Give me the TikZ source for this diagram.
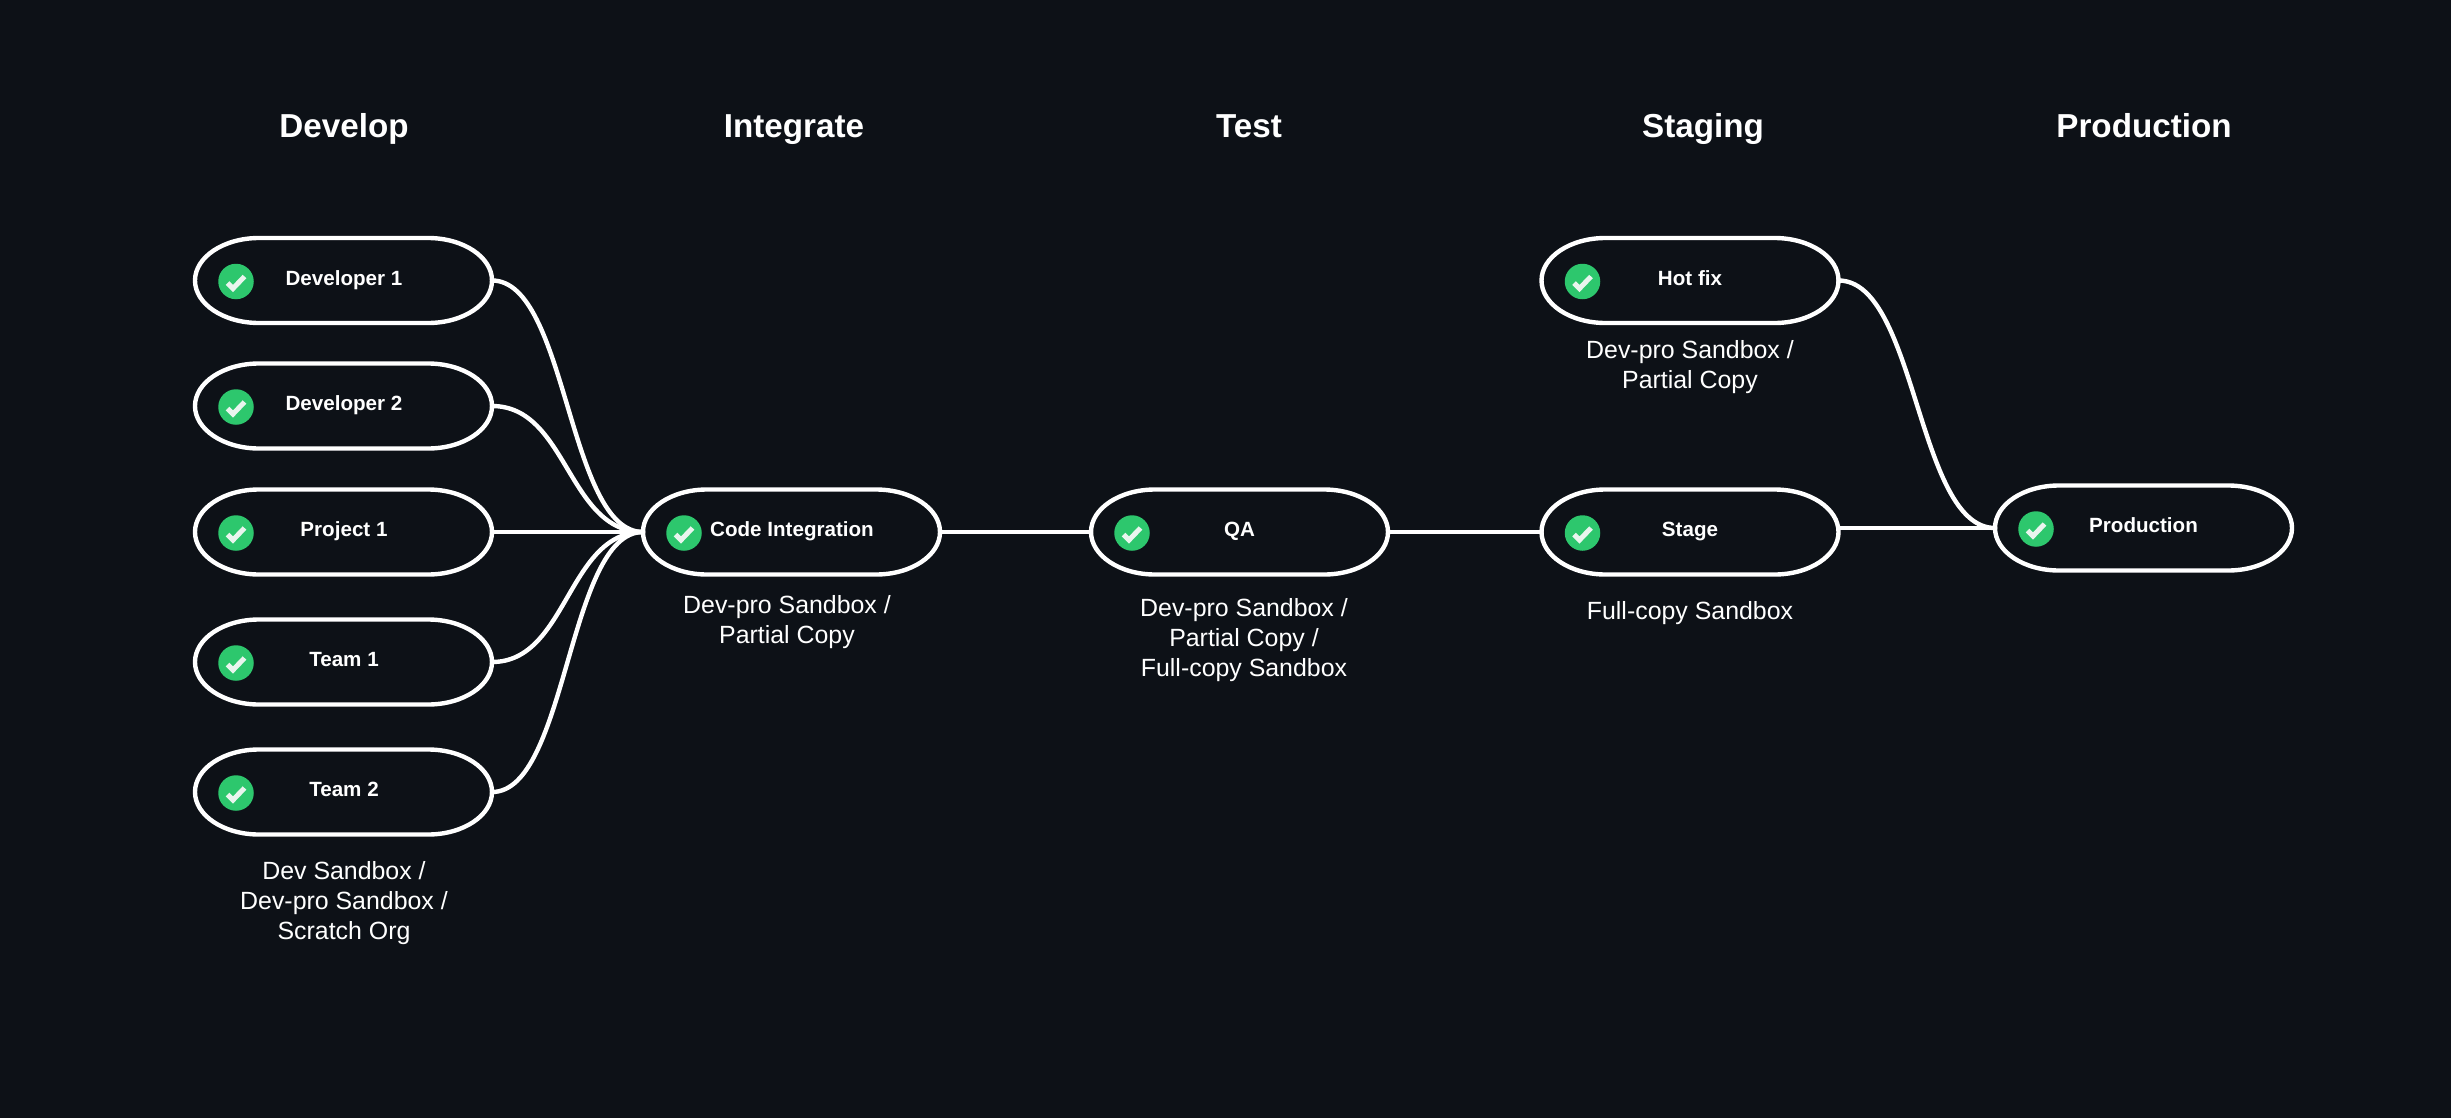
\documentclass[tikz,border=0pt]{standalone}
\usepackage{fontspec}
\setmainfont{Liberation Sans}
\usetikzlibrary{calc}
\definecolor{bgc}{HTML}{0D1117}
\definecolor{okc}{HTML}{2DC76D}
\definecolor{tickc}{HTML}{E9F5EE}
\tikzset{
  x=1pt,y=-1pt,
  pillbox/.style={minimum width=297pt,minimum height=85pt,inner sep=0pt,outer sep=0pt,text=white},
  pillline/.style={draw=white,line width=4.4pt},
  conn/.style={draw=white,line width=4.4pt,line cap=round},
  okdot/.style={circle,fill=okc,minimum size=35.5pt,inner sep=0pt},
  tick/.style={draw=tickc,line width=5pt},
  title/.style={text=white,font=\bfseries\fontsize{33.2}{40}\selectfont,inner sep=0pt,anchor=base},
  lab/.style={text=white,font=\bfseries\fontsize{20.6}{25}\selectfont,inner sep=0pt,anchor=base},
  note/.style={text=white,font=\fontsize{24.9}{29.7}\selectfont,align=center,inner sep=0pt,anchor=base},
}
% name, cx, cy, label, label cx offset
\newcommand{\pillnode}[5]{%
  \node[pillbox] (#1) at (#2,#3) {};
  \draw[pillline] ($(#1.north west)+(64,0)$) -- ($(#1.north east)+(-64,0)$)
    arc[start angle=90,end angle=0,x radius=64pt,y radius=42.5pt]
    arc[start angle=0,end angle=-90,x radius=64pt,y radius=42.5pt]
    -- ($(#1.south west)+(64,0)$)
    arc[start angle=-90,end angle=-180,x radius=64pt,y radius=42.5pt]
    arc[start angle=180,end angle=90,x radius=64pt,y radius=42.5pt] -- cycle;
  \node[okdot] (#1ok) at ($(#1.west)+(41,1)$) {};
  \draw[tick] ($(#1ok)+(-8.5,1.5)$) -- ($(#1ok)+(-3,7)$) -- ($(#1ok)+(8.5,-5)$);
  \node[lab] (#1lab) at ($(#1)+(#5,4.5)$) {#4};
}
\newcommand{\flow}[2]{%
  \draw[conn] (#1.east) .. controls ($(#1.east)!.5!(#2.west |- #1.east)$) and ($(#2.west)!.5!(#1.east |- #2.west)$) .. (#2.west);
}
\begin{document}
\begin{tikzpicture}
\useasboundingbox (0,0) rectangle (2451,1118);
\fill[bgc] (0,0) rectangle (2451,1118);

\node[title] (t1) at (344,138) {Develop};
\node[title] (t2) at (794,138) {Integrate};
\node[title] (t3) at (1249,138) {Test};
\node[title] (t4) at (1703,138) {Staging};
\node[title] (t5) at (2144,138) {Production};

\pillnode{dev1}{343.5}{280.5}{Developer 1}{0.5}
\pillnode{dev2}{343.5}{406}{Developer 2}{0.5}
\pillnode{proj}{343.5}{532}{Project 1}{0.5}
\pillnode{team1}{343.5}{662}{Team 1}{0.5}
\pillnode{team2}{343.5}{792}{Team 2}{0.5}
\pillnode{code}{791.5}{532}{Code Integration}{0.5}
\pillnode{qa}{1239.5}{532}{QA}{0}
\pillnode{hot}{1690}{280.5}{Hot fix}{0}
\pillnode{stage}{1690}{532}{Stage}{0}
\pillnode{prod}{2143.5}{528}{Production}{0}

\flow{dev1}{code}
\flow{dev2}{code}
\draw[conn] (proj.east) -- (code.west);
\flow{team1}{code}
\flow{team2}{code}
\draw[conn] (code.east) -- (qa.west);
\draw[conn] (qa.east) -- (stage.west);
\flow{hot}{prod}
\draw[conn] (stage.east |- prod.west) -- (prod.west);

\node[note] (n1) at (344,939) {Dev Sandbox /\\Dev-pro Sandbox /\\Scratch Org};
\node[note] (n2) at (787,643.5) {Dev-pro Sandbox /\\Partial Copy};
\node[note] (n3) at (1244,676) {Dev-pro Sandbox /\\Partial Copy /\\Full-copy Sandbox};
\node[note] (n4) at (1690,388) {Dev-pro Sandbox /\\Partial Copy};
\node[note] (n5) at (1690,619) {Full-copy Sandbox};
\end{tikzpicture}
\end{document}
